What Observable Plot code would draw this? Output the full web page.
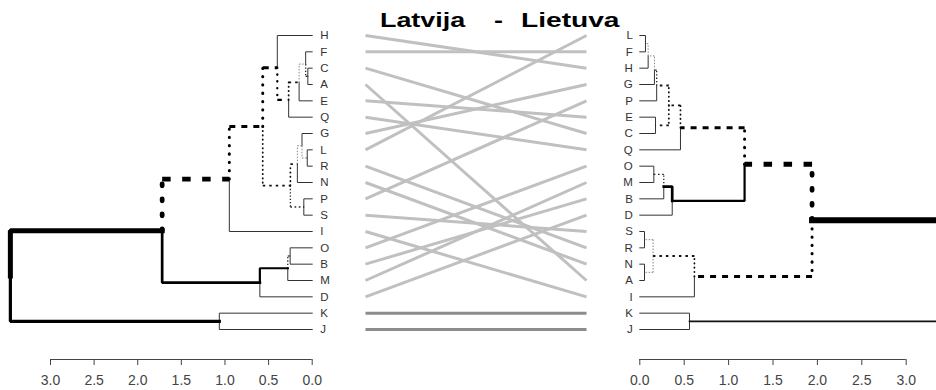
<!DOCTYPE html>
<html><head><meta charset="utf-8">
<script src="https://cdn.jsdelivr.net/npm/d3@7"></script>
<script src="https://cdn.jsdelivr.net/npm/@observablehq/plot@0.6"></script>
<style>
body{margin:0;background:#fff;}
#wrap{position:relative;width:936px;height:390px;overflow:hidden;font-family:"Liberation Sans",Arial,sans-serif;background:#fff;}
#wrap > div.p{position:absolute;top:0;}
.t{position:absolute;top:9px;font-weight:bold;font-size:21px;line-height:21px;color:#000;white-space:pre;transform-origin:0 0;transform:scaleX(1.28);z-index:5;}
</style></head><body>
<div id="wrap"></div>
<script>
// ---- data ----
const titleParts = ["Latvija", "-", "Lietuva"];
const leftOrder  = ["H","F","C","A","E","Q","G","L","R","N","P","S","I","O","B","M","D","K","J"];
const rightOrder = ["L","F","H","G","P","E","C","Q","O","M","B","D","S","R","N","A","I","K","J"];
// merges: [node, childA, childB, height]
const leftMerges = [
  ["CA","C","A",0.05],
  ["FCA","F","CA",0.075],
  ["FCAE","FCA","E",0.15],
  ["FCAEQ","FCAE","Q",0.27],
  ["HQ","H","FCAEQ",0.40],
  ["LR","L","R",0.057],
  ["GLR","G","LR",0.117],
  ["GLRN","GLR","N",0.17],
  ["PS","P","S",0.096],
  ["GS","GLRN","PS",0.25],
  ["HS","HQ","GS",0.567],
  ["HI","HS","I",0.95],
  ["OB","O","B",0.253],
  ["OBM","OB","M",0.28],
  ["OBMD","OBM","D",0.60],
  ["BIG","HI","OBMD",1.72],
  ["KJ","K","J",1.065],
  ["ROOT","BIG","KJ",3.46]
];
const rightMerges = [
  ["LF","L","F",0.064],
  ["LFH","LF","H",0.094],
  ["LFHG","LFH","G",0.165],
  ["LFHGP","LFHG","P",0.19],
  ["EC","E","C",0.177],
  ["LFHGPEC","LFHGP","EC",0.327],
  ["LQ","LFHGPEC","Q",0.458],
  ["OM","O","M",0.158],
  ["OMB","OM","B",0.27],
  ["OMBD","OMB","D",0.365],
  ["LD","LQ","OMBD",1.18],
  ["SR","S","R",0.053],
  ["NA","N","A",0.053],
  ["SRNA","SR","NA",0.15],
  ["SI","SRNA","I",0.615],
  ["LI","LD","SI",1.94],
  ["KJ","K","J",0.56],
  ["ROOT","LI","KJ",3.5]
];
const highlighted = ["K","J"];
const tickValues = [0,0.5,1,1.5,2,2.5,3];

// ---- styles (kept apart from data) ----
const STYLES = {
  thin:  {w:1,   c:"#333"},
  sol15: {w:1.7, c:"#111"},
  sol2:  {w:2.2, c:"#000"},
  sol25: {w:2.7, c:"#000"},
  sol3:  {w:3.2, c:"#000"},
  thick: {w:5,   c:"#000"},
  thick6:{w:6,   c:"#000"},
  dotG:  {w:1,   c:"#8a8a8a", v:"1.5 1.5", h:"1.5 1.5"},
  dot1:  {w:1.3, c:"#222", v:"1.3 2", h:"1.6 2.6"},
  dot15: {w:1.8, c:"#111", v:"0.3 4", vcap:"round", h:"2.5 4"},
  dot2:  {w:2.3, c:"#000", v:"0.3 6.5", vcap:"round", h:"4.5 6"},
  dot3:  {w:3,   c:"#000", v:"0.3 8", vcap:"round", h:"6 6"},
  dot4:  {w:4.8, c:"#000", v:"2 13", vcap:"round", h:"8.5 11.5"}
};
const leftEdgeStyle = {CA:"dot1",FCA:"dotG",FCAE:"dot15",FCAEQ:"dot2",HQ:"dot3",LR:"dotG",GLR:"dotG",
  GLRN:"dot15",PS:"dot1",GS:"dot15",HS:"dot3",HI:"dot4",OB:"dot1",OBM:"sol2",OBMD:"sol25",BIG:"thick",KJ:"sol3"};
const rightEdgeStyle = {LF:"dotG",LFH:"dotG",LFHG:"dot1",LFHGP:"dot15",EC:"dot15",LFHGPEC:"dot15",LQ:"dot3",
  OM:"dot1",OMB:"sol25",OMBD:"sol2",LD:"dot4",SR:"dotG",NA:"dotG",SRNA:"dot15",SI:"dot3",LI:"thick6",KJ:"sol15"};

function build(order, merges) {
  const nodes = {};
  order.forEach((k, i) => nodes[k] = {name:k, h:0, y:i});
  merges.forEach(([n, a, b, h]) => {
    nodes[n] = {name:n, h, y:(nodes[a].y + nodes[b].y) / 2};
    nodes[a].parent = n; nodes[b].parent = n;
  });
  return nodes;
}
function treeMarks(nodes, styleMap) {
  const marks = [];
  const list = Object.values(nodes).filter(d => d.parent);
  for (const c of list) {
    const p = nodes[c.parent];
    const s = STYLES[styleMap[c.name] || "thin"];
    if (!s.v) {
      marks.push(Plot.line([{x:p.h,y:p.y},{x:p.h,y:c.y},{x:c.h,y:c.y}],
        {x:"x", y:"y", stroke:s.c, strokeWidth:s.w, strokeLinejoin:"miter", strokeLinecap:"square"}));
    } else {
      marks.push(Plot.link([{x1:p.h,y1:p.y,x2:p.h,y2:c.y}],
        {x1:"x1",y1:"y1",x2:"x2",y2:"y2", stroke:s.c, strokeWidth:s.w, strokeDasharray:s.v, strokeLinecap:s.vcap || "butt"}));
      marks.push(Plot.link([{x1:p.h,y1:c.y,x2:c.h,y2:c.y}],
        {x1:"x1",y1:"y1",x2:"x2",y2:"y2", stroke:s.c, strokeWidth:s.w, strokeDasharray:s.h, strokeLinecap:"butt"}));
    }
  }
  return marks;
}
const FONT = "Liberation Sans, Arial, sans-serif";
const H = 390, MB = 31;
const yScale = {domain:[0, 18], range:[35, 329], axis:null};

// axis baseline: endpoints taken from the plot's own x scale, placed at the frame bottom
function addBaseline(plot) {
  const xs = plot.scale("x");
  const ns = "http://www.w3.org/2000/svg";
  const ln = document.createElementNS(ns, "line");
  const y = H - MB + 0.5;
  ln.setAttribute("x1", xs.apply(d3.min(tickValues)));
  ln.setAttribute("x2", xs.apply(d3.max(tickValues)));
  ln.setAttribute("y1", y); ln.setAttribute("y2", y);
  ln.setAttribute("stroke", "#444"); ln.setAttribute("stroke-width", "1.2");
  plot.appendChild(ln);
}

const wrap = document.getElementById("wrap");
function place(el, left) { const d = document.createElement("div"); d.className = "p"; d.style.left = left + "px"; d.appendChild(el); wrap.appendChild(d); }

// left dendrogram
const L = build(leftOrder, leftMerges);
const leftPlot = Plot.plot({
  width:340, height:H, marginTop:0, marginBottom:MB, marginLeft:50, marginRight:28.3,
  style:{fontFamily:FONT, fontSize:"14px", color:"#444", background:"transparent"},
  x:{domain:[3, 0], range:[50, 311.7], ticks:tickValues, tickFormat:d3.format(".1f"), tickSize:6, tickPadding:10, label:null},
  y:yScale,
  marks:[
    ...treeMarks(L, leftEdgeStyle),
    Plot.text(leftOrder.map(k => L[k]), {x:"h", y:"y", text:"name", dx:8, textAnchor:"start", fontSize:11.5, fill:"#333"})
  ]
});
addBaseline(leftPlot);
place(leftPlot, 0);

// connecting lines
const links = leftOrder.map(k => ({k, yl:leftOrder.indexOf(k), yr:rightOrder.indexOf(k), a:titleParts[0], b:titleParts[2]}));
const midPlot = Plot.plot({
  width:260, height:H, marginTop:0, marginBottom:MB, marginLeft:25, marginRight:14,
  style:{background:"transparent"},
  x:{type:"point", padding:0, domain:[titleParts[0], titleParts[2]], range:[25, 246], axis:null},
  y:yScale,
  marks:[
    Plot.link(links.filter(d => !highlighted.includes(d.k)), {x1:"a", x2:"b", y1:"yl", y2:"yr", stroke:"#c0c0c0", strokeWidth:3}),
    Plot.link(links.filter(d => highlighted.includes(d.k)), {x1:"a", x2:"b", y1:"yl", y2:"yr", stroke:"#8c8c8c", strokeWidth:3})
  ]
});
place(midPlot, 340);

// right dendrogram
const R = build(rightOrder, rightMerges);
const rightPlot = Plot.plot({
  width:336, height:H, marginTop:0, marginBottom:MB, marginLeft:39.3, marginRight:30.3,
  style:{fontFamily:FONT, fontSize:"14px", color:"#444", background:"transparent", overflow:"hidden"},
  x:{domain:[0, 3], range:[39.3, 305.7], ticks:tickValues, tickFormat:d3.format(".1f"), tickSize:6, tickPadding:10, label:null},
  y:yScale,
  marks:[
    ...treeMarks(R, rightEdgeStyle),
    Plot.text(rightOrder.map(k => R[k]), {x:"h", y:"y", text:"name", dx:-7, textAnchor:"end", fontSize:11.5, fill:"#333"})
  ]
});
addBaseline(rightPlot);
place(rightPlot, 600);

// title
const titleLefts = [380, 493.5, 521];
titleParts.forEach((t, i) => {
  const s = document.createElement("div"); s.className = "t"; s.textContent = t; s.style.left = titleLefts[i] + "px";
  if (i === 2) s.style.transform = "scaleX(1.34)";
  wrap.appendChild(s);
});
</script>
</body></html>
